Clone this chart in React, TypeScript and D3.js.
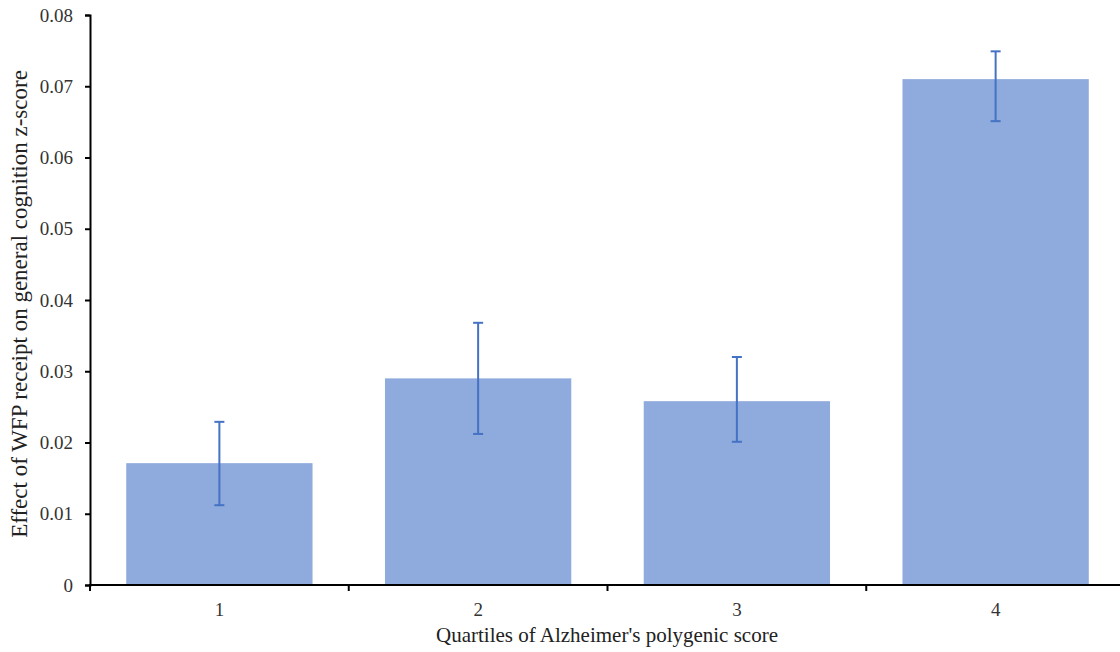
import React, { useEffect, useRef } from 'react';
import * as d3 from 'd3';

const quartiles = ['1', '2', '3', '4'];
const effects = [0.0171, 0.029, 0.0258, 0.071];
const upperCI = [0.0229, 0.0368, 0.032, 0.0749];
const lowerCI = [0.0112, 0.0212, 0.0201, 0.0651];
const yTicks = [0, 0.01, 0.02, 0.03, 0.04, 0.05, 0.06, 0.07, 0.08];

const W = 1120;
const H = 652;
const margin = { top: 15, right: -5, bottom: 67, left: 90 };
const font = "'Times New Roman', 'Liberation Serif', serif";

const App = () => {
  const ref = useRef<SVGSVGElement>(null);

  useEffect(() => {
    const svg = d3.select(ref.current);
    svg.selectAll('*').remove();

    const x = d3.scaleBand()
      .domain(quartiles)
      .range([margin.left, W - margin.right])
      .paddingInner(0.28)
      .paddingOuter(0.14);

    const y = d3.scaleLinear()
      .domain([0, 0.08])
      .range([H - margin.bottom, margin.top]);

    const data = quartiles.map((q, i) => ({ q, v: effects[i], hi: upperCI[i], lo: lowerCI[i] }));

    // bars
    svg.append('g')
      .selectAll('rect')
      .data(data)
      .join('rect')
      .attr('x', (d) => x(d.q)!)
      .attr('y', (d) => y(d.v))
      .attr('width', x.bandwidth())
      .attr('height', (d) => y(0) - y(d.v))
      .attr('fill', '#8FAADC');

    // error bars
    const eb = svg.append('g').attr('stroke', '#4472C4').attr('stroke-width', 2);
    data.forEach((d) => {
      const cx = x(d.q)! + x.bandwidth() / 2;
      eb.append('line').attr('x1', cx).attr('x2', cx).attr('y1', y(d.hi)).attr('y2', y(d.lo));
      eb.append('line').attr('x1', cx - 5).attr('x2', cx + 5).attr('y1', y(d.hi)).attr('y2', y(d.hi));
      eb.append('line').attr('x1', cx - 5).attr('x2', cx + 5).attr('y1', y(d.lo)).attr('y2', y(d.lo));
    });

    // y axis
    const yAxis = svg.append('g')
      .attr('transform', `translate(${margin.left},0)`)
      .call(
        d3.axisLeft(y)
          .tickValues(yTicks)
          .tickSize(5)
          .tickPadding(12)
          .tickFormat((d) => (d === 0 ? '0' : d3.format('.2f')(d as number)))
      );
    yAxis.attr('font-family', null).attr('font-size', null);
    yAxis.select('.domain').attr('stroke', '#000').attr('stroke-width', 2);
    yAxis.selectAll('.tick line').attr('stroke', '#000').attr('stroke-width', 2);
    yAxis.selectAll('text')
      .style('font-family', font)
      .style('font-size', '19px')
      .attr('fill', '#333');

    // x axis: ticks at category boundaries
    const step = x.step();
    const start = margin.left;
    const boundaries = quartiles.slice(1).map((q) => x(q)! - (step - x.bandwidth()) / 2);
    const xg = svg.append('g');
    xg.append('line')
      .attr('x1', start - 1).attr('x2', W)
      .attr('y1', y(0)).attr('y2', y(0))
      .attr('stroke', '#000').attr('stroke-width', 2);
    xg.selectAll('.tk')
      .data([start, ...boundaries])
      .join('line')
      .attr('class', 'tk')
      .attr('x1', (d) => d).attr('x2', (d) => d)
      .attr('y1', y(0)).attr('y2', y(0) + 6)
      .attr('stroke', '#000').attr('stroke-width', 2);
    xg.selectAll('text')
      .data(quartiles)
      .join('text')
      .attr('x', (d) => x(d)! + x.bandwidth() / 2)
      .attr('y', y(0) + 31)
      .attr('text-anchor', 'middle')
      .style('font-family', font)
      .style('font-size', '19px')
      .attr('fill', '#333')
      .text((d) => d);

    // axis titles
    svg.append('text')
      .attr('x', 607)
      .attr('y', 642)
      .attr('text-anchor', 'middle')
      .style('font-family', font)
      .style('font-size', '21px')
      .attr('fill', '#222')
      .text("Quartiles of Alzheimer's polygenic score");

    svg.append('text')
      .attr('transform', 'translate(27,304) rotate(-90)')
      .attr('text-anchor', 'middle')
      .style('font-family', font)
      .style('font-size', '23px')
      .attr('fill', '#222')
      .text('Effect of WFP receipt on general cognition z-score');
  }, []);

  return (
    <svg
      ref={ref}
      width={W}
      height={H}
      style={{ position: 'absolute', left: 0, top: 0, background: '#fff' }}
    />
  );
};

export default App;
